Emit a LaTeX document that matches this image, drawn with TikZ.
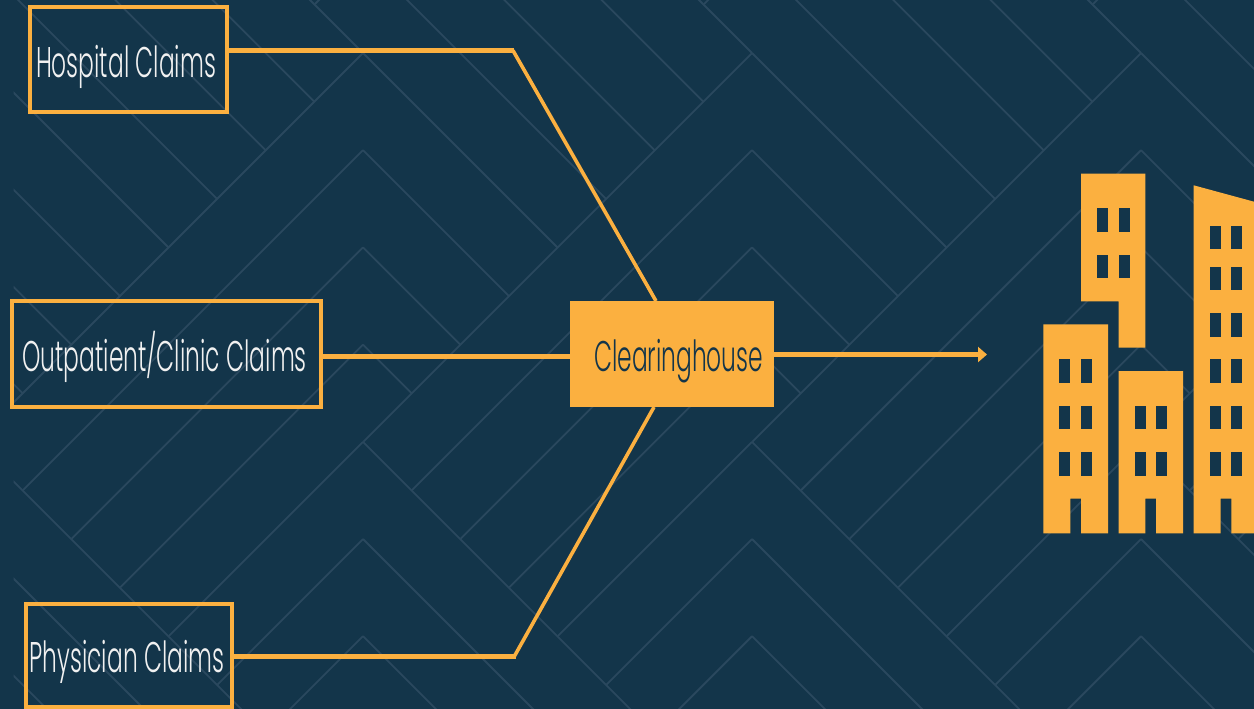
\documentclass[tikz,border=0pt]{standalone}
\usepackage{fontspec}
\setmainfont{Poppins Light}
\usetikzlibrary{arrows.meta}

\definecolor{navy}{HTML}{13354A}
\definecolor{tileline}{HTML}{2A485E}
\definecolor{amber}{HTML}{FBB040}
\definecolor{paper}{HTML}{F1F1F1}

\tikzset{
    tile/.style={tileline, line width=0.18mm},
    link/.style={amber, line width=0.5mm},
    slant/.style={amber, line width=0.36mm},
    claimbox/.style={draw=amber, line width=0.4mm, text=paper, inner sep=0pt, outer sep=0pt, text depth=0pt, text height=10pt, font=\fontsize{12.2pt}{14pt}\selectfont},
    hubbox/.style={fill=amber, text=navy, inner sep=0pt, outer sep=0pt, text depth=0pt, text height=10pt, font=\fontsize{12.2pt}{14pt}\selectfont},
    bldg/.style={fill=amber, draw=none},
}
\newcommand{\narrow}[2][0pt]{\hspace*{#1}\scalebox{0.545}[1]{#2}}

\begin{document}
\begin{tikzpicture}[x=0.1mm, y=-0.1mm]
    \useasboundingbox (0,0) rectangle (1254,708);
    \fill[navy] (-5,-5) rectangle (1260,720);

    % Herringbone tiles
    \begin{scope}
        \clip (13.6,-5) rectangle (1260,720);
        \foreach \c in {-26,363,752,1141,1530} {
            \foreach \k in {-3,...,3} {
                \pgfmathsetmacro{\yk}{53+97.2*\k}
                \pgfmathsetmacro{\dr}{(442-\yk)/2}
                \draw[tile] (\c,\yk) -- ++(\dr,\dr);
            }
            \foreach \k in {4,...,7} {
                \pgfmathsetmacro{\yk}{53+97.2*\k}
                \draw[tile] (\c,\yk) -- ++(400,400);
            }
            \foreach \k in {0,...,7} {
                \pgfmathsetmacro{\yk}{53+97.2*\k}
                \pgfmathsetmacro{\dl}{(830-\yk)/2}
                \draw[tile] (\c,\yk) -- ++(-\dl,\dl);
            }
            % Stubs at the top edge
            \draw[tile] (\c,53) -- ++(-60,-60);
            \draw[tile] (\c,-44) -- ++(-48,48);
        }
    \end{scope}

    % Claim sources
    \node[claimbox, minimum width=19.7mm, minimum height=10.5mm] (hospital) at (128.5,59.5) {\narrow[-1.4pt]{Hospital Claims}};
    \node[claimbox, minimum width=30.9mm, minimum height=10.6mm] (outpatient) at (166.5,354) {\narrow[-1.1pt]{Outpatient/Clinic Claims}};
    \node[claimbox, minimum width=20.6mm, minimum height=10.3mm] (physician) at (129,655) {\narrow[-1.1pt]{Physician Claims}};

    % Clearinghouse
    \node[hubbox, minimum width=20.4mm, minimum height=10.6mm] (clearing) at (672,354) {\narrow[3.8pt]{Clearinghouse}};

    % Connectors
    \coordinate (elbowtop) at (513,50.5);
    \coordinate (elbowbot) at (514.5,656);
    \coordinate (target) at (987,354.5);
    \draw[slant] (elbowtop) -- ([xshift=-1.6mm]clearing.north);
    \draw[link] (hospital.east |- elbowtop) -- ([xshift=0.1mm]elbowtop);
    \draw[link] (outpatient.east |- 0,356) -- (clearing.west |- 0,356);
    \draw[slant] (elbowbot) -- ([xshift=-1.8mm]clearing.south);
    \draw[link] (physician.east |- elbowbot) -- ([xshift=0.1mm]elbowbot);
    \draw[link, -{Triangle[length=0.9mm, width=1.5mm]}] (clearing.east |- target) -- (target);

    % Buildings
    \fill[bldg] (1081,173.7) -- (1145.3,173.7) -- (1145.3,347.7) -- (1118.7,347.7) -- (1118.7,301.3) -- (1081,301.3) -- cycle;
    \fill[bldg] (1043.3,324.3) -- (1108,324.3) -- (1108,533.3) -- (1081,533.3) -- (1081,498.7) -- (1070.3,498.7) -- (1070.3,533.3) -- (1043.3,533.3) -- cycle;
    \fill[bldg] (1118.7,371) -- (1183,371) -- (1183,533.3) -- (1156,533.3) -- (1156,498.7) -- (1145.3,498.7) -- (1145.3,533.3) -- (1118.7,533.3) -- cycle;
    \fill[bldg] (1193.7,185.3) -- (1260,203.3) -- (1260,533.3) -- (1231.3,533.3) -- (1231.3,498.7) -- (1220.7,498.7) -- (1220.7,533.3) -- (1193.7,533.3) -- cycle;

    % Windows
    \foreach \x in {1097,1118.7} {
        \foreach \y in {208.3,255} {
            \fill[navy] (\x,\y) rectangle ++(10.8,23.3);
        }
    }
    \foreach \x in {1059.3,1081} {
        \foreach \y in {359.3,406,452.3} {
            \fill[navy] (\x,\y) rectangle ++(11,23.3);
        }
    }
    \foreach \x in {1134.7,1156} {
        \foreach \y in {406,452.3} {
            \fill[navy] (\x,\y) rectangle ++(10.8,23.3);
        }
    }
    \foreach \x in {1209.7,1231.3} {
        \foreach \y in {226,266.7,313.3,359.3,406,452.3} {
            \fill[navy] (\x,\y) rectangle ++(10.9,23.3);
        }
    }
\end{tikzpicture}
\end{document}
